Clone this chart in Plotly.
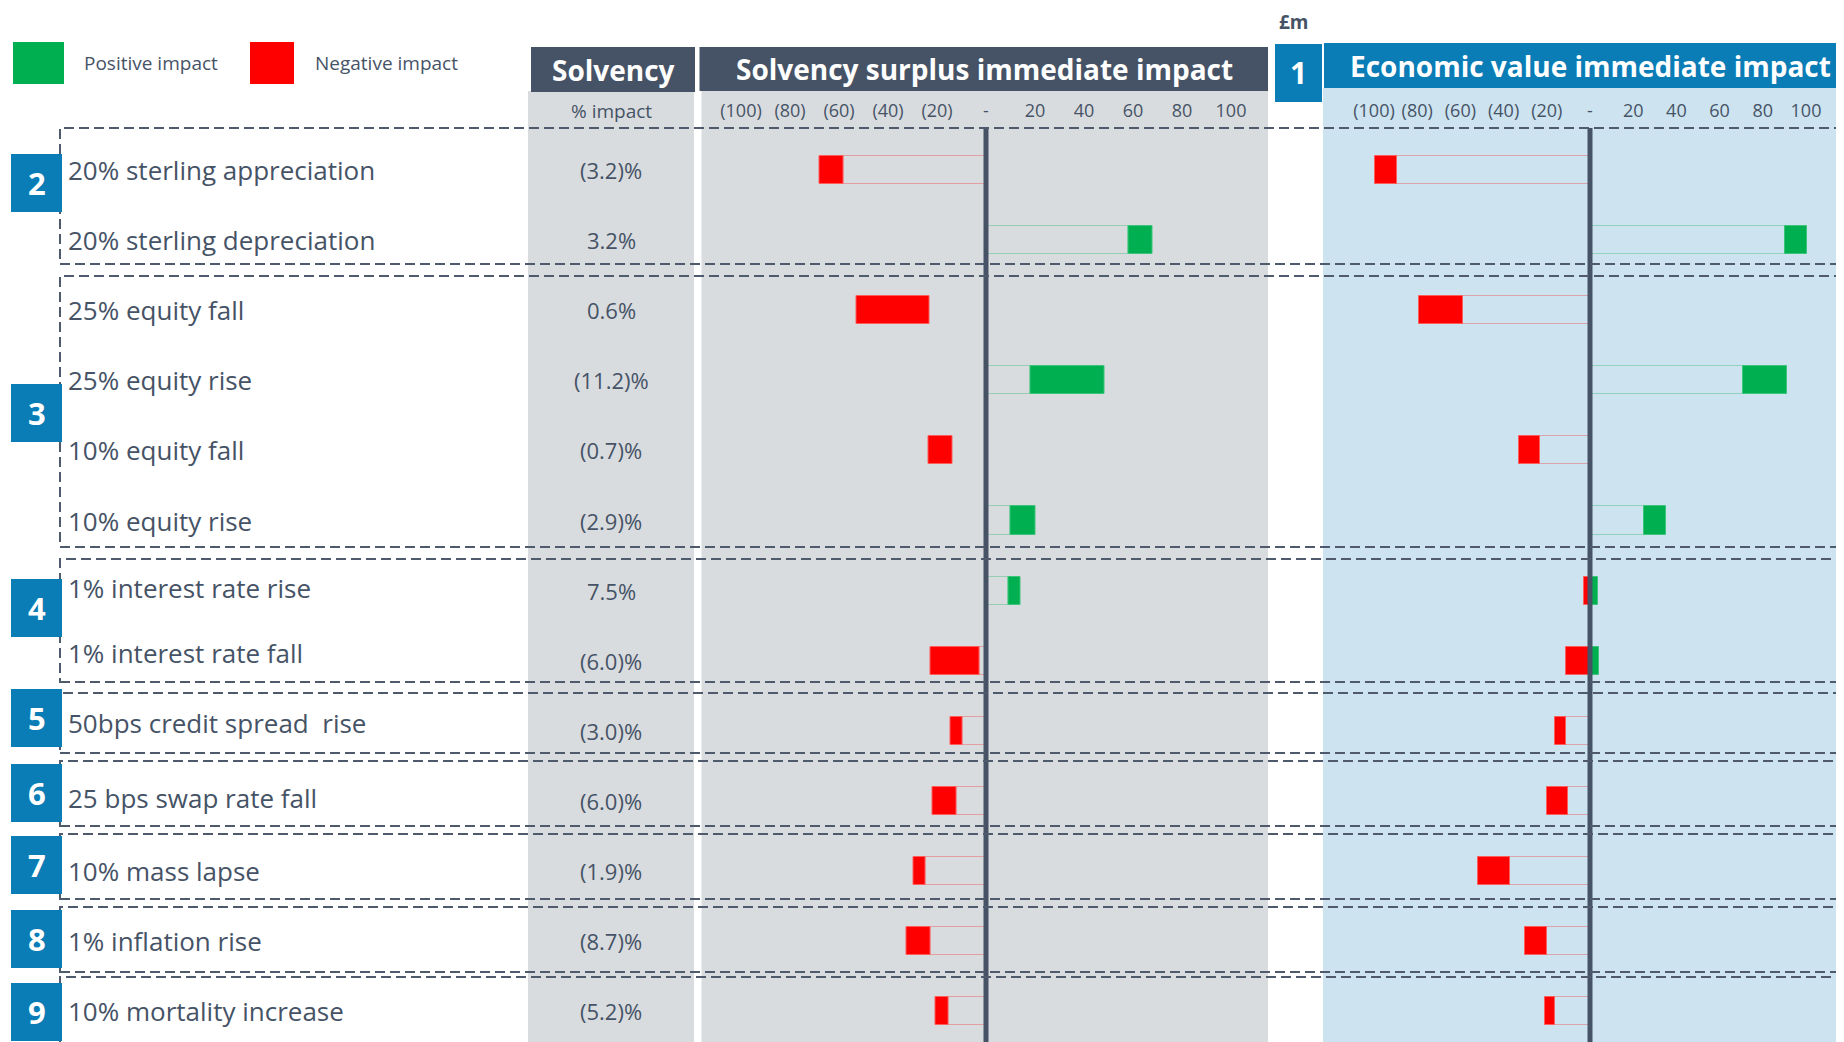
import plotly.graph_objects as go

W, H = 1844, 1042
OFF = 8  # page margin of the rendered html

# rows, top to bottom
labels = ["20% sterling appreciation", "20% sterling depreciation", "25% equity fall", "25% equity rise",
          "10% equity fall", "10% equity rise", "1% interest rate rise", "1% interest rate fall",
          "50bps credit spread  rise", "25 bps swap rate fall", "10% mass lapse", "1% inflation rise",
          "10% mortality increase"]
solvency_pct = ["(3.2)%", "3.2%", "0.6%", "(11.2)%", "(0.7)%", "(2.9)%", "7.5%", "(6.0)%", "(3.0)%",
                "(6.0)%", "(1.9)%", "(8.7)%", "(5.2)%"]
group_nums = ["2", "3", "4", "5", "6", "7", "8", "9"]

# solvency surplus immediate impact (£m): red / green blocks from inner to outer edge
sol_red_in = [-58, None, -23, None, -13.5, None, None, -2.5, -9.5, -12, -24.5, -22.5, -15.5]
sol_red_out = [-68, None, -53, None, -23.5, None, None, -22.5, -14.5, -22, -29.5, -32.5, -20.5]
sol_grn_in = [None, 58, None, 18, None, 10, 9, None, None, None, None, None, None]
sol_grn_out = [None, 68, None, 48.5, None, 20, 14, None, None, None, None, None, None]
sol_link = [True, True, False, True, False, True, True, True, True, True, True, True, True]

# economic value immediate impact (£m)
ev_red_in = [-89.5, None, -59, None, -23, None, 0, 0, -11, -10, -37, -20, -16]
ev_red_out = [-99.5, None, -79, None, -33, None, -3, -11, -16, -20, -52, -30, -21]
ev_grn_in = [None, 90.5, None, 71, None, 25, 0, 0, None, None, None, None, None]
ev_grn_out = [None, 100.5, None, 91, None, 35, 3.5, 4, None, None, None, None, None]
ev_link = [True] * 13

tick_vals = [-100, -80, -60, -40, -20, 0, 20, 40, 60, 80, 100]
tick_text = ["(100)", "(80)", "(60)", "(40)", "(20)", "-", "20", "40", "60", "80", "100"]

DARK = "#465366"
BLUE = "#0a7cb6"
GRAY = "#d9dcdf"
LBLUE = "#cde3f0"
GREEN = "#00b050"
RED = "#ff0000"
FONT = "Open Sans"


def fx(p):
    return (p - OFF) / W


def fy(p):
    return 1 - (p - OFF) / H


fig = go.Figure()


def add_panel(red_in, red_out, grn_in, grn_out, link, xa):
    rows = list(range(len(labels)))
    r = [i for i in rows if red_in[i] is not None]
    g = [i for i in rows if grn_in[i] is not None]
    # thin link boxes from zero to the block
    fig.add_bar(y=[i for i in r if link[i]], x=[red_in[i] for i in r if link[i]], base=0,
                orientation="h", width=0.4, xaxis=xa, yaxis="y",
                marker=dict(color="rgba(0,0,0,0)", line=dict(color="rgba(255,0,0,0.28)", width=1)))
    fig.add_bar(y=[i for i in g if link[i]], x=[grn_in[i] for i in g if link[i]], base=0,
                orientation="h", width=0.4, xaxis=xa, yaxis="y",
                marker=dict(color="rgba(0,0,0,0)", line=dict(color="rgba(0,176,80,0.3)", width=1)))
    fig.add_bar(y=r, x=[red_out[i] - red_in[i] for i in r], base=[red_in[i] for i in r],
                orientation="h", width=0.4, xaxis=xa, yaxis="y",
                marker=dict(color=RED, line=dict(color="#ff5c5c", width=1)))
    fig.add_bar(y=g, x=[grn_out[i] - grn_in[i] for i in g], base=[grn_in[i] for i in g],
                orientation="h", width=0.4, xaxis=xa, yaxis="y",
                marker=dict(color=GREEN, line=dict(color="#3cc47a", width=1)))


add_panel(sol_red_in, sol_red_out, sol_grn_in, sol_grn_out, sol_link, "x")
add_panel(ev_red_in, ev_red_out, ev_grn_in, ev_grn_out, ev_link, "x2")

shapes = []
ann = []


def rect(x0, y0, x1, y1, fill, layer="below"):
    shapes.append(dict(type="rect", xref="paper", yref="paper", x0=fx(x0), x1=fx(x1), y0=fy(y1), y1=fy(y0),
                       fillcolor=fill, line_width=0, layer=layer))


def text(x, y, s, size, color=DARK, bold=False, xanchor="center", yshift=0, yref="paper"):
    ann.append(dict(x=fx(x), y=fy(y) if yref == "paper" else y, xref="paper", yref=yref, text=s,
                    showarrow=False, xanchor=xanchor, yanchor="middle", yshift=yshift,
                    font=dict(family=FONT, size=size, color=color, weight="bold" if bold else "normal")))


# panels
rect(528, 91, 694, H + 20, GRAY)
rect(701.5, 91, 1268, H + 20, GRAY)
rect(1323, 88, W + 20, H + 20, LBLUE)

# headers
rect(531, 47, 695, 92, DARK)
text(613, 70, "Solvency", 28, "white", True)
rect(699.5, 47, 1268, 91, DARK)
text(984, 69, "Solvency surplus immediate impact", 28, "white", True)
rect(1324, 43, W + 20, 88, BLUE)
text(1590, 66, "Economic value immediate impact", 28, "white", True)
rect(1275, 44, 1322, 102, BLUE)
text(1298.5, 73, "1", 30, "white", True)
text(1277, 22, "£m", 19, DARK, True, xanchor="left")
text(611, 111, "% impact", 19)

# legend
rect(13, 42, 64, 84, GREEN)
text(82, 63, "Positive impact", 19, xanchor="left")
rect(250, 42, 294, 84, RED)
text(313, 63, "Negative impact", 19, xanchor="left")

# zero lines
for xa in ["x", "x2"]:
    shapes.append(dict(type="line", xref=xa, yref="paper", x0=0, x1=0, y0=fy(128), y1=-0.02,
                       line=dict(color=DARK, width=5), layer="above"))

# dashed group boxes
box_top = [128, 276, 559, 693, 761, 834, 907, 977]
box_bot = [264, 547, 682, 753, 826, 899, 972, 1070]
for t, b in zip(box_top, box_bot):
    shapes.append(dict(type="rect", xref="paper", yref="paper", x0=fx(60), x1=fx(W + 30), y0=fy(b), y1=fy(t),
                       line=dict(color="#4f5b6c", width=2, dash="10px,5px"), layer="above"))

# group number boxes
num_y = [183, 413, 608, 718, 793, 865, 939, 1012]
for n, yc in zip(group_nums, num_y):
    rect(11, yc - 29, 62, yc + 29, BLUE, layer="above")
    text(36.5, yc, n, 31, "white", True)

# row labels and solvency % impact
label_shift = [0, 0, 0, 0, 0, 0, 3, 8, 8, 3, 0, 0, 0]
for i, (lab, pct) in enumerate(zip(labels, solvency_pct)):
    text(66, i, lab, 26, xanchor="left", yref="y", yshift=label_shift[i])
    text(611, i, pct, 22, yref="y")

axis_common = dict(tickvals=tick_vals, ticktext=tick_text, side="top", anchor="free", position=fy(121),
                   showgrid=False, zeroline=False, showline=False, ticks="", fixedrange=True,
                   tickfont=dict(family=FONT, size=18, color=DARK))

ZERO_S, ZERO_E = 986, 1590
fig.update_layout(
    width=W, height=H, margin=dict(l=0, r=0, t=0, b=0),
    paper_bgcolor="white", plot_bgcolor="rgba(0,0,0,0)",
    barmode="overlay", showlegend=False, bargap=0,
    xaxis=dict(domain=[fx(701.5), fx(1268)],
               range=[(701.5 - ZERO_S) / 2.45, (1268 - ZERO_S) / 2.45], **axis_common),
    xaxis2=dict(domain=[fx(1323), 1],
                range=[(1323 - ZERO_E) / 2.16, (W + OFF - ZERO_E) / 2.16], **axis_common),
    yaxis=dict(domain=[0, 1], range=[(H + OFF - 170) / 70.1, (OFF - 170) / 70.1], visible=False, fixedrange=True),
    shapes=shapes, annotations=ann,
)

fig.write_html("out.html")
